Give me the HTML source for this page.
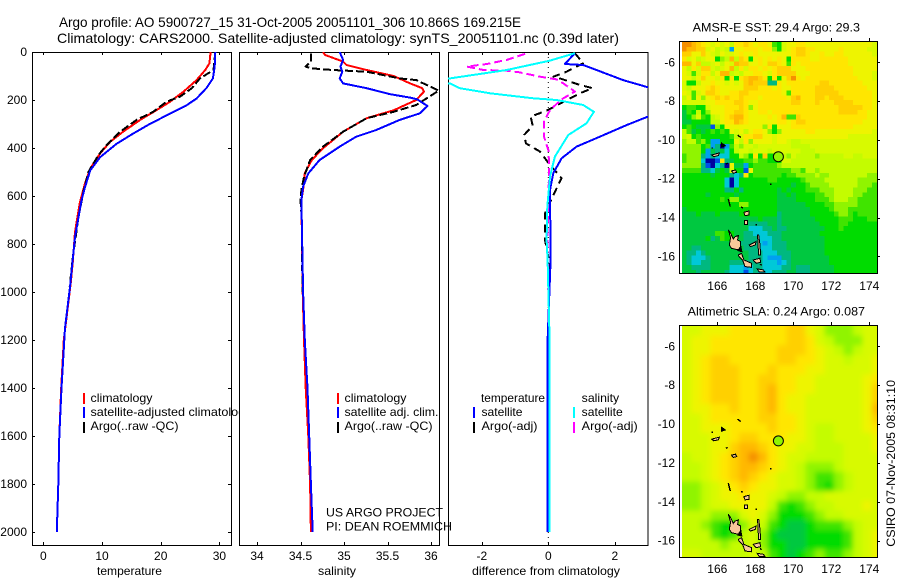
<!DOCTYPE html>
<html lang="en">
<head>
<meta charset="utf-8">
<title>Argo profile 5900727_15</title>
<style>
html,body{margin:0;padding:0;background:#fff;}
svg{display:block;font-family:"Liberation Sans",sans-serif;fill:#000;}
text{font-size:12px;}
</style>
</head>
<body>
<svg id="chart" xmlns="http://www.w3.org/2000/svg" width="900" height="580" viewBox="0 0 900 580">
<defs>
<clipPath id="clip-p1"><rect x="32" y="52" width="199" height="493"/></clipPath>
<clipPath id="clip-p2"><rect x="239" y="52" width="200" height="493"/></clipPath>
<clipPath id="clip-p3"><rect x="448" y="52" width="200" height="493"/></clipPath>
<clipPath id="clip-m1"><rect x="682" y="42" width="195" height="231"/></clipPath>
<clipPath id="clip-m2"><rect x="682" y="326" width="195" height="231"/></clipPath>
<filter id="soften" filterUnits="userSpaceOnUse" x="650" y="290" width="250" height="290"><feGaussianBlur stdDeviation="2.6"/></filter>
</defs>
<rect x="0" y="0" width="900" height="580" fill="#fff"/>
<text x="59" y="27" textLength="462" lengthAdjust="spacingAndGlyphs" style="font-size:14px">Argo profile: AO 5900727_15 31-Oct-2005 20051101_306 10.866S 169.215E</text>
<text x="57" y="43" textLength="562" lengthAdjust="spacingAndGlyphs" style="font-size:14px">Climatology: CARS2000. Satellite-adjusted climatology: synTS_20051101.nc (0.39d later)</text>

<g id="panel1">
<rect x="32.5" y="52.5" width="199" height="493" fill="#fff" stroke="#000" shape-rendering="crispEdges"/>
<g id="p1-series" clip-path="url(#clip-p1)"></g>
<g id="p1-axes"></g>
<text x="97" y="575" textLength="65" lengthAdjust="spacingAndGlyphs">temperature</text>
<g>
<rect x="83" y="393" width="2" height="11" fill="#f00"/>
<text x="90.5" y="402" textLength="62" lengthAdjust="spacingAndGlyphs">climatology</text>
<rect x="83" y="407" width="2" height="11" fill="#00f"/>
<text x="90.5" y="416" textLength="161" lengthAdjust="spacingAndGlyphs">satellite-adjusted climatology</text>
<rect x="83" y="422" width="2" height="11" fill="#000"/>
<text x="90.5" y="430" textLength="88" lengthAdjust="spacingAndGlyphs">Argo(..raw -QC)</text>
</g>
</g>

<g id="panel2">
<rect x="239.5" y="52.5" width="200" height="493" fill="#fff" stroke="#000" shape-rendering="crispEdges"/>
<g id="p2-series" clip-path="url(#clip-p2)"></g>
<g id="p2-axes"></g>
<text x="318" y="575" textLength="38" lengthAdjust="spacingAndGlyphs">salinity</text>
<g>
<rect x="337" y="393" width="2" height="11" fill="#f00"/>
<text x="344.5" y="402" textLength="62" lengthAdjust="spacingAndGlyphs">climatology</text>
<rect x="337" y="407" width="2" height="11" fill="#00f"/>
<text x="344.5" y="416" textLength="94" lengthAdjust="spacingAndGlyphs">satellite adj. clim.</text>
<rect x="337" y="422" width="2" height="11" fill="#000"/>
<text x="344.5" y="430" textLength="88" lengthAdjust="spacingAndGlyphs">Argo(..raw -QC)</text>
</g>
</g>

<g id="panel3">
<rect x="448.5" y="52.5" width="199.5" height="493" fill="#fff" stroke="#000" shape-rendering="crispEdges"/>
<g id="p3-series" clip-path="url(#clip-p3)"></g>
<g id="p3-axes"></g>
<text x="472" y="575" textLength="148" lengthAdjust="spacingAndGlyphs">difference from climatology</text>
<g>
<text x="481" y="402" textLength="64" lengthAdjust="spacingAndGlyphs">temperature</text>
<rect x="473" y="407" width="2" height="11" fill="#00f"/>
<text x="481.5" y="416" textLength="41" lengthAdjust="spacingAndGlyphs">satellite</text>
<rect x="473" y="422" width="2" height="11" fill="#000"/>
<text x="481.5" y="430" textLength="56" lengthAdjust="spacingAndGlyphs">Argo(-adj)</text>
<text x="581.7" y="402" textLength="37.5" lengthAdjust="spacingAndGlyphs">salinity</text>
<rect x="573" y="407" width="2" height="11" fill="#0ff"/>
<text x="581.7" y="416" textLength="41" lengthAdjust="spacingAndGlyphs">satellite</text>
<rect x="573" y="422" width="2" height="11" fill="#f0f"/>
<text x="581.7" y="430" textLength="56" lengthAdjust="spacingAndGlyphs">Argo(-adj)</text>
</g>
</g>
<text x="326" y="516.5" textLength="117" lengthAdjust="spacingAndGlyphs">US ARGO PROJECT</text>
<text x="326" y="530.5" textLength="126" lengthAdjust="spacingAndGlyphs">PI: DEAN ROEMMICH</text>

<g id="map1">
<text x="692.7" y="31.5" textLength="167.3" lengthAdjust="spacingAndGlyphs">AMSR-E SST: 29.4 Argo: 29.3</text>
<g id="m1-cells" clip-path="url(#clip-m1)"></g>
<g id="m1-land" clip-path="url(#clip-m1)"></g>
<rect x="679.5" y="41.5" width="198" height="232" fill="none" stroke="#000" shape-rendering="crispEdges"/>
<g id="m1-axes"></g>
</g>

<g id="map2">
<text x="687.7" y="315.5" textLength="177.3" lengthAdjust="spacingAndGlyphs">Altimetric SLA: 0.24 Argo: 0.087</text>
<g clip-path="url(#clip-m2)"><g id="m2-cells" filter="url(#soften)"></g></g>
<g id="m2-land" clip-path="url(#clip-m2)"></g>
<rect x="679.5" y="325.5" width="198" height="232" fill="none" stroke="#000" shape-rendering="crispEdges"/>
<g id="m2-axes"></g>
</g>
<text transform="translate(895,546.7) rotate(-90)" x="0" y="0" textLength="166.7" lengthAdjust="spacingAndGlyphs">CSIRO 07-Nov-2005 08:31:10</text>
</svg>

<script>
// ---------- profile data ----------
const depthTicks = [0,200,400,600,800,1000,1200,1400,1600,1800,2000];
const tempTicks = [0,10,20,30];
const salTicks = [34,34.5,35,35.5,36];
const salTickLabels = ["34","34.5","35","35.5","36"];
const diffTicks = [-2,0,2];

const tempClimDepth = [0,47,75,117,165,207,242,283,332,374,422,485,547,630,750,880,964,1200,1400,1600,1800,2000];
const tempClimValues = [28.5,28.3,27.6,26.1,23.9,21.6,19.3,16.5,13.6,11.4,9.7,8.0,7.1,6.2,5.4,5.0,4.66,3.5,3.05,2.72,2.55,2.3];
const tempSatDepth = [0,60,110,150,194,222,264,299,340,382,438,493,563,618,688,771,868,979,1150,1400,1600,1800,2000];
const tempSatValues = [29.3,29.2,28.9,27.8,26.1,24.4,21.0,18.2,15.3,12.5,9.7,8.0,7.1,6.5,6.0,5.4,5.0,4.55,3.7,3.1,2.73,2.56,2.3];
const tempArgoDepth = [0,75,110,151,186,207,249,283,332,387,429,499,575,686,853,978];
const tempArgoValues = [29.3,29.0,26.7,25.3,23.3,21,18.7,15.9,13.1,10.8,9.4,7.7,6.9,6.0,5.05,4.5];

const salClimDepth = [0,12,40,54,75,100,131,151,165,200,243,276,332,401,450,504,574,617,1000,1200,1400,1600,1800,2000];
const salClimValues = [34.76,34.78,34.99,35.03,35.26,35.57,35.76,35.90,35.92,35.83,35.57,35.26,34.99,34.76,34.63,34.55,34.53,34.51,34.525,34.54,34.56,34.59,34.61,34.62];
const salSatDepth = [0,33,61,82,110,131,151,176,190,197,225,256,283,325,353,394,450,506,561,617,1000,1200,1400,1600,1800,2000];
const salSatValues = [34.95,34.99,34.96,34.98,34.95,34.99,35.26,35.53,35.76,35.84,35.96,35.87,35.64,35.37,35.14,34.95,34.72,34.59,34.53,34.51,34.53,34.55,34.58,34.60,34.62,34.64];
const salArgoDepth = [6,40,61,68,75,82,110,117,161,221,249,276,332,394,450,520,574,617,700,900,1000];
const salArgoValues = [34.62,34.62,34.56,34.62,34.87,35.26,35.64,35.83,36.09,35.83,35.57,35.26,34.99,34.76,34.61,34.54,34.51,34.50,34.515,34.52,34.525];

const diffTempSatDepth = [5,50,54,75,117,147,190,269,304,353,394,443,505,575,867,1200,2000];
const diffTempSatValues = [0.8,0.5,1.05,1.45,2.25,3.0,4.7,3.0,2.36,1.55,0.85,0.4,0.15,0.05,0.07,-0.02,-0.03];
const diffSalSatDepth = [5,36,75,110,125,131,151,172,193,200,221,249,297,346,436,519,644,783,867,1200,2000];
const diffSalSatValues = [0.8,0.05,-1.25,-2.96,-3.5,-2.96,-2.66,-1.75,-0.45,0.25,1.05,1.37,1.15,0.6,0.2,0.05,-0.03,-0.05,-0.02,0.04,0.04];
const diffTempArgoDepth = [5,47,82,103,110,137,151,172,197,244,269,308,346,381,415,471,526,596,672,783,853,1000];
const diffTempArgoValues = [0.8,1.05,0.55,0.15,0.35,0.95,1.33,0.95,0.6,-0.05,-0.53,-0.47,-0.73,-0.67,-0.25,0.05,0.4,0.15,-0.1,-0.1,0,0];
const diffSalArgoDepth = [8,33,50,61,75,78,85,103,114,131,165,197,242,290,353,408,478,617,783,1000];
const diffSalArgoValues = [-0.7,-1.25,-1.85,-2.45,-1.95,-1.25,-0.85,-0.25,0.25,0.45,0.8,0.4,0.05,-0.13,-0.13,0,0.03,0,-0.03,0];

// ---------- map data (colour-scale levels, 0 = coldest/lowest, 15 = warmest/highest) ----------
const mapXTicks = [166,168,170,172,174];
const mapYTicks = [-6,-8,-10,-12,-14,-16];
const floatLon = 169.215;
const floatLat = -10.866;
const sstFloatLevel = 8;
const slaFloatLevel = 8;
const levelColors = ["#0000a0","#0050e8","#00a0f0","#00c8d8","#00b880","#00c840","#00dc00","#40e400","#90f400","#c4fc00","#d8fa00","#eef400","#ffe600","#ffd000","#ffb800","#f59000"];

const sstRows = [
[15,15,14,13,12,11,10,11,10,11,9,12,12,13,12,11,12,12,11,7,6,10,11,11,12,12,11,11,11,11,11,11,11,11,11,11,11,11,11,11,10],
[15,14,14,13,13,10,11,9,10,9,2,11,11,12,12,12,11,12,12,8,6,10,11,12,13,13,12,12,11,11,11,11,11,12,11,11,11,11,11,10,10],
[13,13,11,11,13,11,10,9,11,10,10,11,12,11,11,12,11,11,11,11,11,11,11,12,13,13,12,11,11,12,11,11,12,12,11,11,11,11,11,11,10],
[12,10,11,9,10,11,11,6,8,9,14,9,13,12,6,11,12,11,12,11,12,11,6,12,12,12,12,11,11,12,12,12,12,12,12,11,11,11,11,11,11],
[14,14,11,13,9,9,10,11,9,11,10,14,13,13,11,11,12,11,13,13,12,11,7,12,11,12,12,12,12,12,12,12,12,12,12,11,11,11,11,11,11],
[11,9,12,10,13,13,10,9,10,11,14,9,12,10,12,12,11,12,11,12,13,13,13,11,11,11,12,12,12,12,12,12,12,12,12,12,11,11,11,11,11],
[11,10,7,10,12,12,9,11,14,14,9,10,9,11,11,12,12,11,10,12,13,13,13,13,11,11,11,12,12,12,12,12,12,12,12,12,11,11,11,11,10],
[11,11,9,11,13,11,11,10,12,6,12,6,12,13,14,14,13,12,6,12,6,11,13,15,12,11,12,12,12,12,12,12,12,12,12,12,12,11,11,11,10],
[10,6,6,9,11,11,12,11,11,10,11,10,11,13,14,13,13,13,4,4,12,11,12,12,12,12,12,12,12,13,13,12,12,12,12,12,12,12,11,11,11],
[10,9,11,11,11,12,13,12,11,11,11,11,11,13,13,13,12,12,12,11,12,11,11,12,12,12,12,12,13,13,13,13,12,12,12,12,12,12,12,11,11],
[11,10,7,10,11,13,13,12,11,11,12,12,13,13,12,12,12,12,12,12,12,11,7,12,12,12,12,12,13,13,13,13,13,12,12,12,12,12,12,12,11],
[9,11,7,11,8,11,12,13,12,13,12,12,13,12,12,12,11,12,12,12,12,12,11,13,14,12,12,12,13,13,12,13,13,13,12,12,12,12,12,12,11],
[10,10,10,10,10,11,11,12,12,12,12,13,13,12,11,11,12,12,12,12,12,12,12,13,13,12,12,12,13,12,12,12,13,13,13,13,12,12,12,12,11],
[6,7,7,6,6,10,11,11,11,12,12,12,13,12,8,11,12,12,12,12,12,12,12,12,12,12,12,12,12,12,12,12,12,13,13,13,13,13,12,12,11],
[5,7,6,9,6,8,11,11,11,12,12,13,13,12,11,11,12,12,11,12,12,12,12,12,12,12,12,12,12,12,12,12,12,13,13,13,13,12,12,11,11],
[5,6,8,10,7,6,9,10,11,12,13,14,14,12,11,11,11,11,12,11,12,14,7,7,13,12,12,12,12,12,12,12,12,12,12,12,12,12,12,11,11],
[5,5,6,6,6,6,9,9,11,12,12,14,13,12,11,11,11,11,11,11,12,12,11,12,13,13,12,12,12,12,12,12,12,12,12,12,12,12,11,11,11],
[6,7,6,5,5,5,1,8,6,11,11,11,11,11,11,11,11,8,12,6,11,11,11,12,12,12,12,12,12,12,12,12,12,12,12,12,11,11,11,11,11],
[9,7,5,6,5,6,7,6,7,6,11,10,11,9,11,12,12,11,8,6,8,11,11,11,11,11,12,12,11,11,11,11,11,11,11,11,11,11,11,11,10],
[9,10,6,7,6,6,6,6,6,6,7,9,10,12,12,13,13,11,11,10,11,11,11,11,11,11,11,11,11,11,11,11,11,11,11,10,10,10,10,10,10],
[8,9,9,7,8,6,2,2,6,6,6,11,9,12,8,11,11,11,11,10,11,11,10,9,9,10,10,10,10,10,10,10,10,10,10,10,10,10,10,10,10],
[8,8,8,8,6,7,2,4,0,2,7,9,8,10,10,9,10,10,10,10,10,10,10,9,9,9,9,10,10,10,10,10,10,10,10,10,10,10,10,10,10],
[8,8,8,8,6,2,5,4,5,3,6,9,10,10,9,10,10,10,9,10,10,10,10,10,10,9,9,9,10,10,10,10,10,10,10,10,10,10,10,10,10],
[7,8,8,8,4,2,4,3,3,3,6,6,9,8,6,12,6,13,6,6,9,9,8,10,9,9,9,9,8,9,9,9,9,9,10,10,9,9,10,10,10],
[7,8,8,8,3,0,0,1,12,4,5,6,6,7,7,8,7,7,6,6,6,10,10,9,9,9,9,9,9,9,9,9,9,9,9,9,9,9,9,9,9],
[8,8,8,8,4,1,0,3,4,0,11,5,5,2,6,7,7,7,7,7,8,9,9,9,9,9,9,9,9,9,9,9,9,9,9,9,9,9,9,9,9],
[7,7,7,7,4,4,3,5,6,5,10,6,6,1,11,7,7,7,7,7,7,7,7,8,8,7,9,9,8,9,9,9,9,9,9,9,9,9,9,9,9],
[6,6,6,6,6,6,5,6,6,6,4,3,4,12,6,7,7,7,7,7,7,6,7,7,8,8,8,8,9,8,8,9,9,9,9,9,9,9,9,8,8],
[6,6,6,6,6,6,6,6,6,3,0,3,6,6,6,6,6,6,7,7,6,6,6,6,6,7,8,8,8,8,9,9,9,9,9,9,9,8,8,8,8],
[6,6,6,6,6,6,6,6,6,3,0,3,6,6,6,6,6,6,6,6,6,6,6,5,6,6,7,8,8,8,8,9,9,9,9,9,9,8,8,8,7],
[6,6,6,6,6,6,6,6,6,4,4,6,4,6,6,6,6,6,6,6,5,6,5,6,6,6,7,7,7,8,8,8,9,9,9,9,8,8,8,7,7],
[6,6,6,6,6,5,6,6,6,6,6,5,6,6,6,6,6,6,6,6,5,5,6,5,6,6,6,6,7,7,8,8,9,9,9,9,8,8,7,7,7],
[6,6,6,6,6,6,6,6,7,6,8,8,6,6,6,6,6,6,6,6,5,5,5,5,6,6,6,6,7,7,7,8,9,9,9,8,8,7,7,7,7],
[6,6,6,6,6,6,6,6,6,6,6,6,8,8,6,6,6,6,6,6,5,5,5,5,5,5,6,6,6,6,7,7,8,8,8,8,8,7,7,7,7],
[5,6,6,6,6,6,6,6,6,6,6,6,6,6,6,6,6,6,6,6,5,5,5,5,5,5,5,6,6,6,6,7,8,8,8,7,7,7,7,7,7],
[5,5,5,6,5,5,5,6,5,5,5,5,6,6,6,6,6,6,6,6,4,5,5,5,5,5,5,6,6,6,6,6,7,8,8,7,6,7,7,7,7],
[5,5,5,5,5,5,5,5,5,5,5,5,5,5,5,5,6,5,5,5,4,5,5,5,5,5,5,5,6,6,6,6,6,7,7,7,6,6,6,7,7],
[5,5,5,5,5,5,5,5,5,5,5,5,5,5,4,4,4,4,5,5,4,5,5,5,5,5,5,5,5,6,6,6,6,7,7,6,6,6,6,6,6],
[5,5,5,5,5,5,5,5,5,5,5,5,5,5,3,3,3,4,4,5,4,4,5,5,5,5,5,5,5,5,6,6,6,7,6,6,6,6,6,6,6],
[5,5,5,5,5,5,5,7,7,6,6,5,5,4,4,3,3,3,4,4,4,5,5,5,5,5,5,5,5,6,6,6,6,6,6,6,6,6,6,6,6],
[5,5,5,5,5,6,4,5,7,6,6,5,5,4,4,4,3,3,3,4,4,5,5,5,5,5,5,5,5,5,6,6,6,6,6,6,6,6,6,6,6],
[5,5,5,5,5,5,5,5,5,5,5,5,4,4,4,4,3,2,3,4,4,4,5,5,5,5,5,5,5,5,6,6,6,6,6,6,6,6,6,6,6],
[5,5,4,4,5,5,5,5,5,5,5,5,5,4,4,4,3,3,3,4,4,4,5,5,5,5,5,5,5,5,6,6,6,6,6,6,6,6,6,6,6],
[5,4,4,3,4,5,5,5,5,5,5,5,5,5,4,4,4,3,3,3,4,4,4,5,5,5,5,5,5,5,6,6,6,6,6,6,6,6,6,6,6],
[5,4,3,3,3,4,5,5,5,5,5,5,5,5,4,4,4,3,2,2,2,4,4,5,5,5,5,5,5,5,5,6,6,6,6,6,6,6,6,6,6],
[5,4,3,3,4,4,5,5,5,5,4,4,4,4,4,4,4,3,3,3,2,3,4,5,5,5,5,5,5,5,5,6,6,6,6,6,6,6,6,6,6],
[5,5,4,4,4,4,5,5,5,5,3,3,3,2,3,4,4,3,3,3,3,4,4,5,4,4,4,5,5,5,5,5,6,6,6,6,6,6,6,6,6],
[5,5,5,4,5,5,5,5,5,4,3,3,3,1,3,4,3,3,3,4,4,4,5,5,4,4,4,5,5,5,5,5,6,6,6,6,6,6,6,6,6]
];

const slaRows = [
[10,10,11,11,11,12,12,12,12,12,12,13,13,11,10,8,8,8,9,10,10],
[10,11,11,12,12,12,12,12,12,12,12,13,13,12,10,9,8,8,8,10,10],
[10,11,11,12,12,12,12,12,12,12,13,13,13,12,11,10,9,8,9,10,10],
[10,11,12,13,13,12,12,12,12,12,13,13,12,12,11,10,10,9,10,10,11],
[10,11,12,13,13,13,12,12,12,13,12,12,12,11,11,10,10,10,10,10,11],
[10,11,12,13,13,13,12,12,13,13,12,12,11,11,10,10,10,10,10,11,12],
[10,11,12,13,13,13,12,12,13,14,12,12,11,11,10,10,10,10,10,11,13],
[10,11,12,13,13,13,12,12,13,14,12,11,11,10,10,10,10,10,10,11,13],
[10,11,11,12,12,13,12,12,13,14,12,11,11,10,10,10,10,10,10,11,14],
[10,10,11,12,12,12,12,12,13,13,12,12,11,10,10,10,10,10,10,11,13],
[10,10,11,11,11,12,12,12,12,13,12,12,11,10,9,9,10,10,10,11,12],
[10,10,10,11,11,12,13,13,12,12,12,11,11,10,9,9,10,10,10,10,11],
[10,10,10,11,11,13,14,14,13,12,11,11,10,10,9,9,9,10,10,10,11],
[9,10,10,11,12,13,14,15,14,12,11,10,10,9,9,9,9,10,10,10,10],
[9,9,10,11,12,13,14,14,13,12,11,10,9,8,8,8,9,10,10,10,10],
[9,9,10,11,12,13,14,13,12,11,10,10,9,8,7,7,8,9,10,10,10],
[8,8,9,10,11,12,13,12,11,11,10,10,9,8,7,6,8,9,10,10,10],
[8,8,9,10,11,11,12,11,11,10,9,8,8,9,9,10,10,10,10,10,10],
[8,8,9,10,10,11,11,11,11,9,7,6,7,8,9,9,10,10,10,11,10],
[9,9,9,8,8,8,10,11,10,8,6,6,6,7,8,9,9,10,10,10,10],
[9,9,8,7,6,6,8,10,9,7,6,5,5,6,7,7,7,8,9,10,10],
[9,9,9,7,6,7,9,10,8,6,5,5,5,6,6,6,6,7,9,10,11],
[9,9,9,9,8,9,9,10,8,6,6,5,5,6,6,6,6,7,9,10,11],
[10,10,9,9,9,9,9,10,9,7,6,5,6,7,8,7,7,8,9,10,11]
];

// coastline outlines as lon/lat pairs
const landPolys = [
[[166.58,-14.64],[166.70,-15.04],[166.63,-15.42],[166.75,-15.59],[167.11,-15.67],[167.23,-15.50],[167.23,-15.24],[167.07,-15.16],[167.11,-14.93],[166.93,-14.99],[166.84,-15.11],[166.70,-14.81]],
[[167.11,-15.93],[167.28,-15.85],[167.40,-16.19],[167.81,-16.36],[167.81,-16.57],[167.46,-16.53],[167.33,-16.19],[167.14,-16.02]],
[[165.70,-10.78],[166.11,-10.67],[166.05,-10.81],[165.82,-10.86]],
[[166.75,-11.60],[166.96,-11.55],[167.02,-11.67],[166.84,-11.72]],
[[167.40,-13.73],[167.68,-13.66],[167.68,-13.87],[167.46,-13.90]],
[[167.44,-14.16],[167.58,-14.16],[167.58,-14.35],[167.44,-14.35]],
[[168.12,-14.90],[168.18,-14.90],[168.25,-15.42],[168.28,-15.93],[168.18,-15.93],[168.14,-15.42]],
[[167.68,-15.42],[168.04,-15.24],[168.00,-15.42],[167.75,-15.50]],
[[167.89,-16.19],[168.25,-16.10],[168.28,-16.31],[168.04,-16.36]],
[[168.10,-16.65],[168.42,-16.70],[168.51,-16.82],[168.21,-16.82]]
];
const blackMarks = [
[[167.07,-9.75],[167.23,-9.87]],
[[168.77,-12.29],[168.85,-12.29]],
[[166.58,-13.04],[166.68,-13.44]],
[[167.25,-13.47],[167.35,-13.50]],
[[166.23,-10.18],[166.40,-10.30],[166.23,-10.35],[166.23,-10.18]],
[[165.74,-10.38],[165.74,-10.45]],
[[166.45,-11.24],[166.55,-11.20]],
[[168.00,-14.38],[168.10,-14.38]],
[[168.25,-16.40],[168.33,-16.47]],
[[167.23,-15.50],[167.28,-15.75],[167.10,-15.70],[167.23,-15.50]]
];

// ---------- axis functions ----------
function yDepth(d){ return 52 + d * 0.24; }
function xTemp(t){ return 43.3 + t * 5.87; }
function xSal(s){ return 257 + (s - 34) * 87; }
function xDiff(v){ return 548.3 + v * 33.25; }
function lonX(lon){ return 717.3 + (lon - 166) * 19.0; }
function latY1(lat){ return 62.3 + (-6 - lat) * 19.4; }
function latY2(lat){ return 346.3 + (-6 - lat) * 19.44; }

var NS = "http://www.w3.org/2000/svg";
function mk(tag, attrs, parent){
  var el = document.createElementNS(NS, tag);
  for (var k in attrs) el.setAttribute(k, attrs[k]);
  parent.appendChild(el);
  return el;
}
function byId(id){ return document.getElementById(id); }

// ---------- profile lines ----------
function drawLine(g, depths, values, xFn, color, dash, width, name){
  var pts = depths.map(function(d, i){ return xFn(values[i]).toFixed(1) + "," + yDepth(d).toFixed(1); }).join(" ");
  var attrs = {points: pts, fill: "none", stroke: color, "stroke-width": width, "stroke-linejoin": "round", "shape-rendering": "crispEdges"};
  if (dash) attrs["stroke-dasharray"] = dash;
  var el = mk("polyline", attrs, g);
  
  
}

var g1 = byId("p1-series");
drawLine(g1, tempClimDepth, tempClimValues, xTemp, "#f00", null, 2, "temperature-climatology-line");
drawLine(g1, tempArgoDepth, tempArgoValues, xTemp, "#000", "8 3", 2, "temperature-argo-line");
drawLine(g1, tempSatDepth, tempSatValues, xTemp, "#00f", null, 2, "temperature-satellite-line");

var g2 = byId("p2-series");
drawLine(g2, salClimDepth, salClimValues, xSal, "#f00", null, 2, "salinity-climatology-line");
drawLine(g2, salArgoDepth, salArgoValues, xSal, "#000", "8 3", 2, "salinity-argo-line");
drawLine(g2, salSatDepth, salSatValues, xSal, "#00f", null, 2, "salinity-satellite-line");

var g3 = byId("p3-series");
var zeroLine = mk("line", {x1: xDiff(0), x2: xDiff(0), y1: 52, y2: 545, stroke: "#000", "stroke-width": 1, "stroke-dasharray": "1 4"}, g3);


drawLine(g3, diffTempArgoDepth, diffTempArgoValues, xDiff, "#000", "8 5", 2, "difference-temperature-argo-line");
drawLine(g3, diffSalArgoDepth, diffSalArgoValues, xDiff, "#f0f", "8 4", 2, "difference-salinity-argo-line");
drawLine(g3, diffTempSatDepth, diffTempSatValues, xDiff, "#00f", null, 2, "difference-temperature-satellite-line");
drawLine(g3, diffSalSatDepth, diffSalSatValues, xDiff, "#0ff", null, 2, "difference-salinity-satellite-line");

// ---------- profile axes ----------
function xAxis(g, ticks, labels, xFn, name){
  ticks.forEach(function(v, i){
    var x = Math.round(xFn(v)) + 0.5;
    var b = mk("line", {x1: x, x2: x, y1: 545, y2: 542, stroke: "#000"}, g);
    
    
    var t = mk("line", {x1: x, x2: x, y1: 52, y2: 55, stroke: "#000"}, g);
    
    
    var l = mk("text", {x: xFn(v), y: 560, "text-anchor": "middle"}, g);
    l.textContent = labels[i];
    
    
  });
}
xAxis(byId("p1-axes"), tempTicks, tempTicks.map(String), xTemp, "temperature");
xAxis(byId("p2-axes"), salTicks, salTickLabels, xSal, "salinity");
xAxis(byId("p3-axes"), diffTicks, diffTicks.map(String), xDiff, "difference");

depthTicks.forEach(function(d){
  var g = byId("p1-axes");
  var y = Math.round(yDepth(d)) + 0.5;
  var a = mk("line", {x1: 32, x2: 35, y1: y, y2: y, stroke: "#000"}, g);
  
  
  var b = mk("line", {x1: 228, x2: 231, y1: y, y2: y, stroke: "#000"}, g);
  
  
  var l = mk("text", {x: 27, y: yDepth(d) + 4, "text-anchor": "end"}, g);
  l.textContent = String(d);
  
  
});

// ---------- heatmaps ----------
function levelColor(v){
  var i = Math.max(0, Math.min(levelColors.length - 1, Math.round(v)));
  return levelColors[i];
}
var lon0 = 164.14, lat0 = -4.95;
sstRows.forEach(function(row, r){
  row.forEach(function(v, c){
    var x0 = lonX(lon0 + c * 0.25), x1 = lonX(lon0 + (c + 1) * 0.25);
    var y0 = latY1(lat0 - r * 0.25), y1 = latY1(lat0 - (r + 1) * 0.25);
    var cell = mk("rect", {x: x0.toFixed(2), y: y0.toFixed(2), width: (x1 - x0 + 0.4).toFixed(2), height: (y1 - y0 + 0.4).toFixed(2), fill: levelColor(v), "shape-rendering": "crispEdges"}, byId("m1-cells"));
    
    
  });
});
slaRows.forEach(function(row, r){
  row.forEach(function(v, c){
    var x0 = lonX(lon0 + c * 0.5), x1 = lonX(lon0 + (c + 1) * 0.5);
    var y0 = latY2(lat0 - r * 0.5), y1 = latY2(lat0 - (r + 1) * 0.5);
    if (c === 0) x0 -= 14;
    if (c === row.length - 1) x1 += 14;
    if (r === 0) y0 -= 14;
    if (r === slaRows.length - 1) y1 += 14;
    var cell = mk("rect", {x: x0.toFixed(2), y: y0.toFixed(2), width: (x1 - x0 + 0.4).toFixed(2), height: (y1 - y0 + 0.4).toFixed(2), fill: levelColor(v)}, byId("m2-cells"));
    
    
  });
});

// ---------- coastline, float marker, map axes ----------
function drawLand(g, latFn, name){
  landPolys.forEach(function(poly){
    var pts = poly.map(function(p){ return lonX(p[0]).toFixed(1) + "," + latFn(p[1]).toFixed(1); }).join(" ");
    var el = mk("polygon", {points: pts, fill: "#f8c89a", stroke: "#000", "stroke-width": 1, "shape-rendering": "crispEdges"}, g);
    
    
  });
  blackMarks.forEach(function(mark){
    var pts = mark.map(function(p){ return lonX(p[0]).toFixed(1) + "," + latFn(p[1]).toFixed(1); }).join(" ");
    var el = mk("polygon", {points: pts, fill: "#000", stroke: "#000", "stroke-width": 1.4, "shape-rendering": "crispEdges"}, g);
    
    
  });
}
drawLand(byId("m1-land"), latY1, "sst");
drawLand(byId("m2-land"), latY2, "sla");

var c1 = mk("circle", {cx: lonX(floatLon), cy: latY1(floatLat), r: 5, fill: levelColor(sstFloatLevel), stroke: "#000", "stroke-width": 1}, byId("m1-land"));


var c2 = mk("circle", {cx: lonX(floatLon), cy: latY2(floatLat), r: 5, fill: levelColor(slaFloatLevel), stroke: "#000", "stroke-width": 1}, byId("m2-land"));



function mapAxes(g, latFn, top, labelY, name){
  mapXTicks.forEach(function(lon){
    var x = Math.round(lonX(lon)) + 0.5;
    var t = mk("line", {x1: x, x2: x, y1: top - 3, y2: top, stroke: "#000"}, g);
    
    
    var l = mk("text", {x: lonX(lon), y: labelY, "text-anchor": "middle"}, g);
    l.textContent = String(lon);
    
    
  });
  mapYTicks.forEach(function(lat){
    var y = Math.round(latFn(lat)) + 0.5;
    var t = mk("line", {x1: 877, x2: 880, y1: y, y2: y, stroke: "#000"}, g);
    
    
    var l = mk("text", {x: 675, y: latFn(lat) + 4, "text-anchor": "end"}, g);
    l.textContent = String(lat);
    
    
  });
}
mapAxes(byId("m1-axes"), latY1, 41, 290, "sst");
mapAxes(byId("m2-axes"), latY2, 325, 573, "sla");
</script>
</body>
</html>
